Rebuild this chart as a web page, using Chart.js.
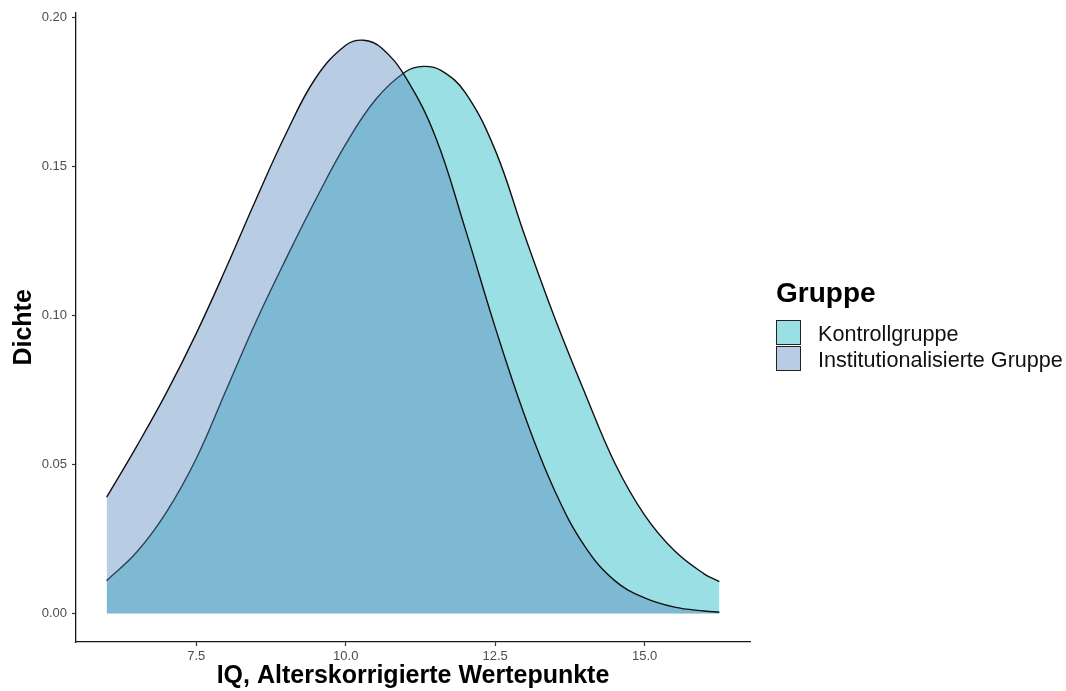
<!DOCTYPE html>
<html>
<head>
<meta charset="utf-8">
<script src="https://cdn.jsdelivr.net/npm/chart.js@4.4.0/dist/chart.umd.min.js"></script>
<style>
    body { margin: 0; background: #fff; font-family: "Liberation Sans", Arial, sans-serif; }
    #wrap { position: relative; width: 1066px; height: 691px; }
    .legend-title { position: absolute; left: 776px; top: 279px; font-size: 28px; line-height: 28px; font-weight: bold; color: #000; }
    .legend-item { position: absolute; left: 776px; height: 26px; }
    .legend-item .swatch { position: absolute; left: 0; top: 0; width: 23px; height: 23px; border: 1.5px solid #222; }
    .legend-item .label { position: absolute; left: 42px; top: 1px; font-size: 21.6px; line-height: 26px; white-space: nowrap; color: #111; }
</style>
</head>
<body>
<div id="wrap">
    <canvas id="densityChart"></canvas>
    <div class="legend-title">Gruppe</div>
    <div class="legend-item" style="top: 320px;">
        <div class="swatch" id="swKontroll"></div>
        <div class="label">Kontrollgruppe</div>
    </div>
    <div class="legend-item" style="top: 346px;">
        <div class="swatch" id="swInst"></div>
        <div class="label">Institutionalisierte Gruppe</div>
    </div>
</div>
<script>
// values
const iqInst = [6.0, 6.5, 7.0, 7.5, 8.0, 8.5, 9.0, 9.5, 10.0, 10.3, 10.6, 11.0, 11.5, 12.0, 12.5, 13.0, 13.5, 14.0, 14.5, 15.0, 15.5, 16.0, 16.25];
const densInst = [0.039, 0.056, 0.074, 0.094, 0.116, 0.139, 0.161, 0.1798, 0.1907, 0.1924, 0.1898, 0.180, 0.160, 0.129, 0.096, 0.066, 0.041, 0.0225, 0.011, 0.0052, 0.0021, 0.0008, 0.0004];

const iqKontroll = [6.0, 6.5, 7.0, 7.5, 8.0, 8.5, 9.0, 9.5, 10.0, 10.5, 11.0, 11.3, 11.6, 12.0, 12.5, 13.0, 13.5, 14.0, 14.5, 15.0, 15.5, 16.0, 16.25];
const densKontroll = [0.011, 0.0205, 0.034, 0.052, 0.075, 0.098, 0.119, 0.139, 0.1575, 0.1725, 0.1818, 0.1836, 0.1822, 0.1748, 0.1555, 0.1265, 0.099, 0.074, 0.0505, 0.033, 0.021, 0.0132, 0.0107];

const xTicks = [7.5, 10.0, 12.5, 15.0];
const yTicks = [0.00, 0.05, 0.10, 0.15, 0.20];

const fillKontroll = 'rgba(14, 179, 188, 0.42)';
const fillInst = 'rgba(86, 133, 190, 0.42)';

document.getElementById('swKontroll').style.background = fillKontroll;
document.getElementById('swInst').style.background = fillInst;

function toPoints(xs, ys) {
    return xs.map((x, i) => ({ x: x, y: ys[i] }));
}

Chart.defaults.font.family = '"Liberation Sans", Arial, sans-serif';

new Chart(document.getElementById('densityChart'), {
    type: 'line',
    data: {
        datasets: [{
            label: 'Institutionalisierte Gruppe',
            data: toPoints(iqInst, densInst),
            borderColor: '#111',
            borderWidth: 1.4,
            backgroundColor: fillInst,
            fill: 'origin',
            pointRadius: 0,
            tension: 0.4
        }, {
            label: 'Kontrollgruppe',
            data: toPoints(iqKontroll, densKontroll),
            borderColor: '#111',
            borderWidth: 1.4,
            backgroundColor: fillKontroll,
            fill: 'origin',
            pointRadius: 0,
            tension: 0.4
        }]
    },
    options: {
        responsive: true,
        maintainAspectRatio: false,
        animation: false,
        layout: {
            padding: { left: 0, top: 11, right: 316, bottom: 0 }
        },
        plugins: {
            legend: { display: false },
            tooltip: { enabled: false }
        },
        scales: {
            x: {
                type: 'linear',
                min: 5.4875,
                max: 16.7625,
                afterBuildTicks: (axis) => { axis.ticks = xTicks.map(v => ({ value: v })); },
                afterFit: (axis) => { axis.height = 49; },
                border: { display: true, color: '#1a1a1a', width: 1.3 },
                grid: { drawOnChartArea: false, drawTicks: true, tickLength: 4, tickColor: '#333', tickWidth: 1.2 },
                ticks: {
                    color: '#4d4d4d',
                    font: { size: 13 },
                    padding: 3,
                    maxRotation: 0,
                    callback: (v) => v.toFixed(1)
                },
                title: {
                    display: true,
                    text: 'IQ, Alterskorrigierte Wertepunkte',
                    color: '#000',
                    font: { size: 25, weight: 'bold' },
                    padding: { top: 0, bottom: 0 }
                }
            },
            y: {
                min: -0.0096,
                max: 0.2016,
                afterBuildTicks: (axis) => { axis.ticks = yTicks.map(v => ({ value: v })); },
                afterFit: (axis) => { axis.width = 76; },
                border: { display: true, color: '#1a1a1a', width: 1.3 },
                grid: { drawOnChartArea: false, drawTicks: true, tickLength: 4, tickColor: '#333', tickWidth: 1.2 },
                ticks: {
                    color: '#4d4d4d',
                    font: { size: 13 },
                    padding: 5,
                    callback: (v) => v.toFixed(2)
                },
                title: {
                    display: true,
                    text: 'Dichte',
                    color: '#000',
                    font: { size: 25, weight: 'bold' },
                    padding: { top: 9, bottom: 0 }
                }
            }
        }
    }
});
</script>
</body>
</html>
